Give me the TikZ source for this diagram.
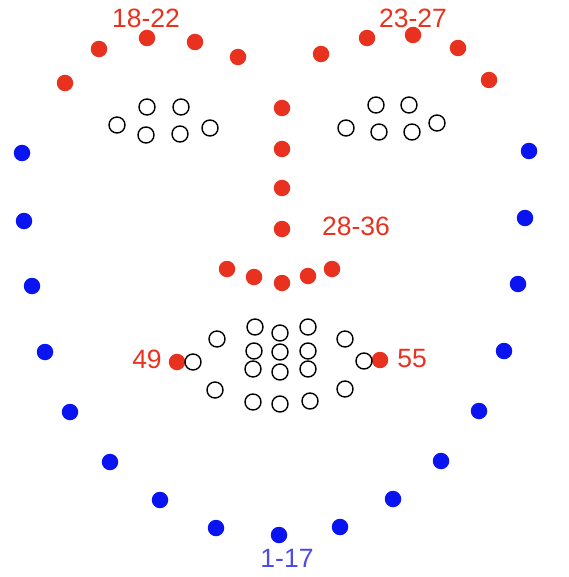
\documentclass[tikz,border=0pt]{standalone}
\usepackage{fontspec}
\setmainfont{Liberation Sans}
\definecolor{ptred}{HTML}{E8321F}
\definecolor{ptblue}{HTML}{0A14F0}
\definecolor{lblblue}{HTML}{4B4BE6}
\tikzset{
  jawdot/.style={circle, fill=ptblue, draw=none, inner sep=0pt, minimum size=16.5pt},
  featdot/.style={circle, fill=ptred, draw=none, inner sep=0pt, minimum size=16.5pt},
  ringdot/.style={circle, draw=black, line width=1.4pt, fill=white, inner sep=0pt, minimum size=16pt},
  grouplabel/.style={font=\fontsize{26.5}{30}\selectfont, inner sep=0pt, text=ptred},
}
\begin{document}
\begin{tikzpicture}[x=1pt, y=-1pt]
  \useasboundingbox (0,0) rectangle (568,577);
  % jaw line 1-17
  \foreach \px/\py [count=\i] in {22/153, 24/221, 32/286, 45/352, 70/412, 110/462, 160/500, 216/528,
      279/535, 340/527, 393/499, 441/461, 479/411, 504/351, 518/284, 525/218, 529/151}
    \node[jawdot] (p\i) at (\px,\py) {};
  % eyebrows 18-27
  \foreach \px/\py [count=\i from 18] in {65/83, 99/49, 147/38, 195/42, 238/57,
      321/54, 367/38, 413/35, 458/48, 489/80}
    \node[featdot] (p\i) at (\px,\py) {};
  % nose 28-36
  \foreach \px/\py [count=\i from 28] in {282/108, 282/149, 282/188, 282/229,
      227/269, 254/277, 282/283, 308/276, 332/269}
    \node[featdot] (p\i) at (\px,\py) {};
  % eyes 37-48
  \foreach \px/\py [count=\i from 37] in {117/125, 147/107, 181/107, 210/128, 180/134, 146/135,
      346/128, 376/105, 409/105, 437/123, 412/132, 379/132}
    \node[ringdot] (p\i) at (\px,\py) {};
  % mouth corners 49 and 55
  \node[featdot] (p49) at (177,362) {};
  \node[featdot] (p55) at (380,360) {};
  % outer lip
  \foreach \px/\py [count=\i] in {193/362, 217/339, 255/327, 280/333, 308/327, 345/339,
      364/361, 345/389, 310/401, 280/404, 253/402, 215/390}
    \node[ringdot] (m\i) at (\px,\py) {};
  % inner lip
  \foreach \px/\py [count=\i] in {254/351, 280/352, 308/351, 253/369, 280/372, 308/369}
    \node[ringdot] (n\i) at (\px,\py) {};
  % group labels
  \node[grouplabel] (l1) at (146,18) {18-22};
  \node[grouplabel] (l2) at (413,18) {23-27};
  \node[grouplabel] (l3) at (356,226) {28-36};
  \node[grouplabel] (l4) at (147,359) {49};
  \node[grouplabel] (l5) at (412,359) {55};
  \node[grouplabel, text=lblblue] (l6) at (287,558) {1-17};
\end{tikzpicture}
\end{document}
